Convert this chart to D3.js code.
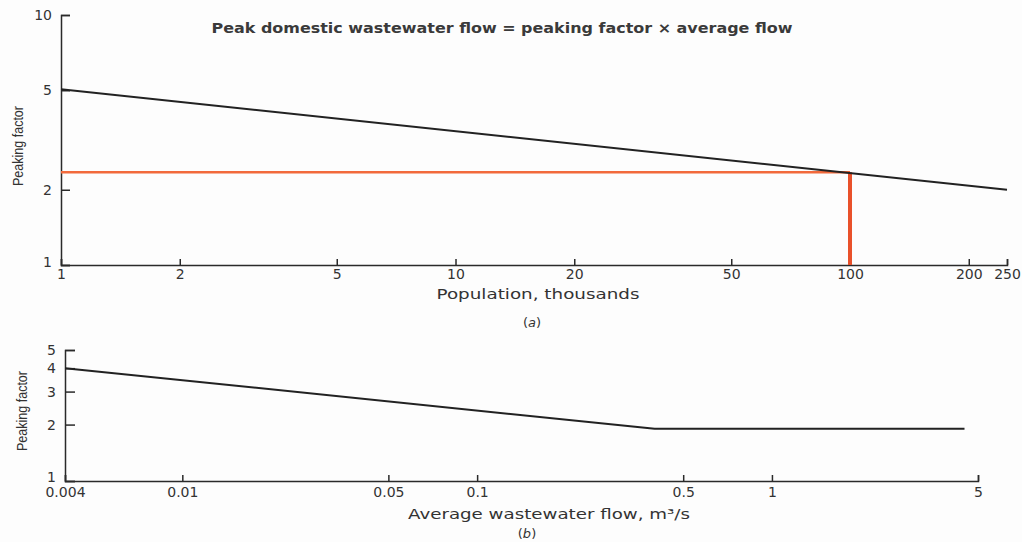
<!DOCTYPE html>
<html>
<head>
<meta charset="utf-8">
<script src="https://cdn.jsdelivr.net/npm/d3@7"></script>
<style>
  body { margin: 0; background: #fdfdfd; }
  svg { display: block; }
  .axis path, .axis line { stroke: #2a2a2a; stroke-width: 1.5; }
  .axis text { font-family: "DejaVu Sans", sans-serif; font-size: 14px; fill: #333; }
</style>
</head>
<body>
<script>
// chart (a): peaking factor vs population
var popTicks = [1, 2, 5, 10, 20, 50, 100, 200, 250];
var pfTicksA = [1, 2, 5, 10];
var popValues = [1, 250];
var pfValuesA = [5.05, 2.0];
var readPop = [1, 100];
var readPf = 2.35;

// chart (b): peaking factor vs average flow
var flowTicks = [0.004, 0.01, 0.05, 0.1, 0.5, 1, 5];
var pfTicksB = [1, 2, 3, 4, 5];
var flowValues = [0.004, 0.4, 4.5];
var pfValuesB = [4.0, 1.9, 1.9];

var svg = d3.select("body").append("svg")
    .attr("width", 1022)
    .attr("height", 542);

// ---- chart (a)
var xa = d3.scaleLog().domain([1, 250]).range([61, 1007]);
var ya = d3.scaleLog().domain([1, 10]).range([265, 15]);

svg.append("g")
    .attr("class", "axis")
    .attr("transform", "translate(0,265)")
    .call(d3.axisBottom(xa).tickValues(popTicks).tickFormat(function(d) { return d; })
      .tickSizeInner(-6).tickSizeOuter(-6).tickPadding(4));

svg.append("g")
    .attr("class", "axis")
    .attr("transform", "translate(61,0)")
    .call(d3.axisLeft(ya).tickValues(pfTicksA).tickFormat(function(d) { return d; })
      .tickSizeInner(-9).tickSizeOuter(-9).tickPadding(9))
  .selectAll(".tick text")
    .filter(function(d) { return d === 1; })
    .attr("dy", "0.1em");

// reading lines for 100 thousand
svg.append("line")
    .attr("x1", xa(readPop[0])).attr("x2", xa(readPop[1]))
    .attr("y1", ya(readPf)).attr("y2", ya(readPf))
    .style("stroke", "#f26a3c").style("stroke-width", 2.5);
svg.append("line")
    .attr("x1", xa(readPop[1])).attr("x2", xa(readPop[1]))
    .attr("y1", ya(readPf)).attr("y2", ya(1))
    .style("stroke", "#e9512b").style("stroke-width", 4);

var lineA = d3.line()
    .x(function(d, i) { return xa(popValues[i]); })
    .y(function(d) { return ya(d); });

svg.append("path")
    .datum(pfValuesA)
    .attr("d", lineA)
    .style("fill", "none")
    .style("stroke", "#222")
    .style("stroke-width", 2);

svg.append("text")
    .attr("x", 502).attr("y", 33)
    .attr("text-anchor", "middle")
    .attr("textLength", 581)
    .attr("lengthAdjust", "spacingAndGlyphs")
    .style("font-family", "DejaVu Sans, sans-serif")
    .style("font-size", "14px")
    .style("font-weight", "bold")
    .style("fill", "#3a3a3a")
    .text("Peak domestic wastewater flow = peaking factor \u00d7 average flow");

svg.append("text")
    .attr("transform", "translate(23,146) rotate(-90)")
    .attr("text-anchor", "middle")
    .attr("textLength", 80)
    .attr("lengthAdjust", "spacingAndGlyphs")
    .style("font-family", "Liberation Sans Narrow, Liberation Sans, sans-serif")
    .style("font-size", "14px")
    .style("fill", "#333")
    .text("Peaking factor");

svg.append("text")
    .attr("x", 538).attr("y", 299)
    .attr("text-anchor", "middle")
    .attr("textLength", 203)
    .attr("lengthAdjust", "spacingAndGlyphs")
    .style("font-family", "DejaVu Sans, sans-serif")
    .style("font-size", "14px")
    .style("fill", "#333")
    .text("Population, thousands");

svg.append("text")
    .attr("x", 532).attr("y", 327)
    .attr("text-anchor", "middle")
    .style("font-family", "DejaVu Sans, sans-serif")
    .style("font-size", "13px")
    .style("fill", "#333")
    .html("(<tspan font-style='italic'>a</tspan>)");

// ---- chart (b)
var xb = d3.scaleLog().domain([0.004, 5]).range([65, 978]);
var yb = d3.scaleLog().domain([1, 5]).range([481, 350]);

svg.append("g")
    .attr("class", "axis")
    .attr("transform", "translate(0,481)")
    .call(d3.axisBottom(xb).tickValues(flowTicks).tickFormat(function(d) { return d; })
      .tickSizeInner(-6).tickSizeOuter(-6).tickPadding(6));

svg.append("g")
    .attr("class", "axis")
    .attr("transform", "translate(65,0)")
    .call(d3.axisLeft(yb).tickValues(pfTicksB).tickFormat(function(d) { return d; })
      .tickSizeInner(-10).tickSizeOuter(-10).tickPadding(9))
  .selectAll(".tick text")
    .filter(function(d) { return d === 1; })
    .attr("dy", "0.05em");

var lineB = d3.line()
    .x(function(d, i) { return xb(flowValues[i]); })
    .y(function(d) { return yb(d); });

svg.append("path")
    .datum(pfValuesB)
    .attr("d", lineB)
    .style("fill", "none")
    .style("stroke", "#222")
    .style("stroke-width", 2);

svg.append("text")
    .attr("transform", "translate(27,411) rotate(-90)")
    .attr("text-anchor", "middle")
    .attr("textLength", 80)
    .attr("lengthAdjust", "spacingAndGlyphs")
    .style("font-family", "Liberation Sans Narrow, Liberation Sans, sans-serif")
    .style("font-size", "14px")
    .style("fill", "#333")
    .text("Peaking factor");

svg.append("text")
    .attr("x", 549).attr("y", 519)
    .attr("text-anchor", "middle")
    .attr("textLength", 282)
    .attr("lengthAdjust", "spacingAndGlyphs")
    .style("font-family", "DejaVu Sans, sans-serif")
    .style("font-size", "14px")
    .style("fill", "#333")
    .text("Average wastewater flow, m\u00b3/s");

svg.append("text")
    .attr("x", 527).attr("y", 538)
    .attr("text-anchor", "middle")
    .style("font-family", "DejaVu Sans, sans-serif")
    .style("font-size", "13px")
    .style("fill", "#333")
    .html("(<tspan font-style='italic'>b</tspan>)");
</script>
</body>
</html>
